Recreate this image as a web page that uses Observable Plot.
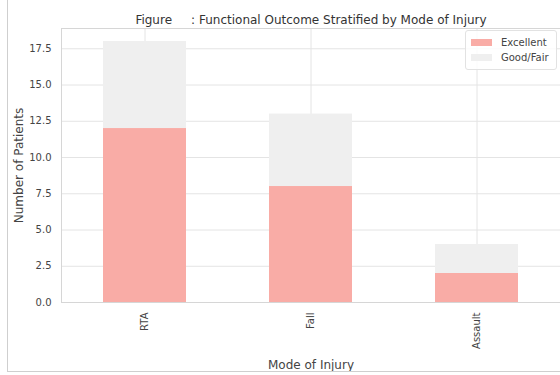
<!DOCTYPE html>
<html>
<head>
<meta charset="utf-8">
<script src="https://cdn.jsdelivr.net/npm/d3@7"></script>
<script src="https://cdn.jsdelivr.net/npm/@observablehq/plot@0.6"></script>
<style>
  html, body { margin: 0; padding: 0; background: #fff; overflow: hidden; }
  #wrap { position: relative; width: 560px; height: 375px; }
  #frame { position: absolute; left: 7px; top: -2px; width: 560px; height: 374px;
           border-left: 1px solid #cfcfcf; border-bottom: 1px solid #cfcfcf; pointer-events: none; box-sizing: border-box; }
  #legend { position: absolute; left: 465px; top: 30px; width: 92px; height: 40px;
            background: rgba(255,255,255,0.85); border: 1px solid #e2e2e2; border-radius: 3px;
            font-family: "DejaVu Sans", sans-serif; font-size: 10px; color: #444; box-sizing: border-box; }
  .item { position: absolute; left: 5px; display: flex; align-items: center; }
  .sw { width: 21px; height: 7px; margin-right: 9px; }
</style>
</head>
<body>
<div id="wrap"><div id="chart"></div><div id="legend"></div><div id="frame"></div></div>
<script>
const categories = ["RTA", "Fall", "Assault"];
const excellent = [12, 8, 2];
const goodFair = [6, 5, 2];
const outcomes = ["Excellent", "Good/Fair"];
const colors = ["#f9aca6", "#efefef"];
const yTicks = [0, 2.5, 5, 7.5, 10, 12.5, 15, 17.5];
const title = "Figure\u00a0\u00a0\u00a0\u00a0\u00a0: Functional Outcome Stratified by Mode of Injury";

const data = [];
categories.forEach((c, i) => {
  data.push({mode: c, outcome: outcomes[0], count: excellent[i]});
  data.push({mode: c, outcome: outcomes[1], count: goodFair[i]});
});

const ymax = d3.max(categories.map((c, i) => excellent[i] + goodFair[i])) * 1.05;

const chart = Plot.plot({
  width: 560,
  height: 375,
  marginTop: 28,
  marginBottom: 73,
  marginLeft: 61,
  marginRight: 0,
  style: {fontFamily: "DejaVu Sans, sans-serif", fontSize: "10px", color: "#444"},
  x: {domain: categories, paddingInner: 0.5, paddingOuter: 0.25, label: null},
  y: {domain: [0, ymax], label: null},
  color: {domain: outcomes, range: colors},
  marks: [
    Plot.gridY(yTicks, {stroke: "#e4e4e4", strokeOpacity: 1}),
    Plot.gridX({stroke: "#e4e4e4", strokeOpacity: 1}),
    Plot.barY(data, {x: "mode", y: "count", fill: "outcome", order: outcomes}),
    Plot.frame({stroke: "#d6d6d6"}),
    Plot.axisY(yTicks, {tickSize: 0, tickPadding: 10, tickFormat: d3.format(".1f"), fontSize: 10, label: null}),
    Plot.axisY({ticks: [], tickSize: 0, label: "Number of Patients",
      labelAnchor: "center", labelArrow: "none", labelOffset: 47, fontSize: 12}),
    Plot.axisX({tickSize: 0, tickPadding: 10, tickRotate: -90, label: null, fontSize: 10}),
    Plot.axisX({ticks: [], tickSize: 0, label: "Mode of Injury",
      labelAnchor: "center", labelArrow: "none", labelOffset: 66, fontSize: 12}),
    Plot.text([title], {frameAnchor: "top", dy: -13, fontSize: 12, fill: "#333"})
  ]
});
document.getElementById("chart").appendChild(chart);

const legend = document.getElementById("legend");
outcomes.forEach((o, i) => {
  const it = document.createElement("div");
  it.className = "item";
  it.style.top = (6 + i * 15) + "px";
  const sw = document.createElement("div");
  sw.className = "sw";
  sw.style.background = colors[i];
  const t = document.createElement("span");
  t.textContent = o;
  it.appendChild(sw); it.appendChild(t);
  legend.appendChild(it);
});
</script>
</body>
</html>
